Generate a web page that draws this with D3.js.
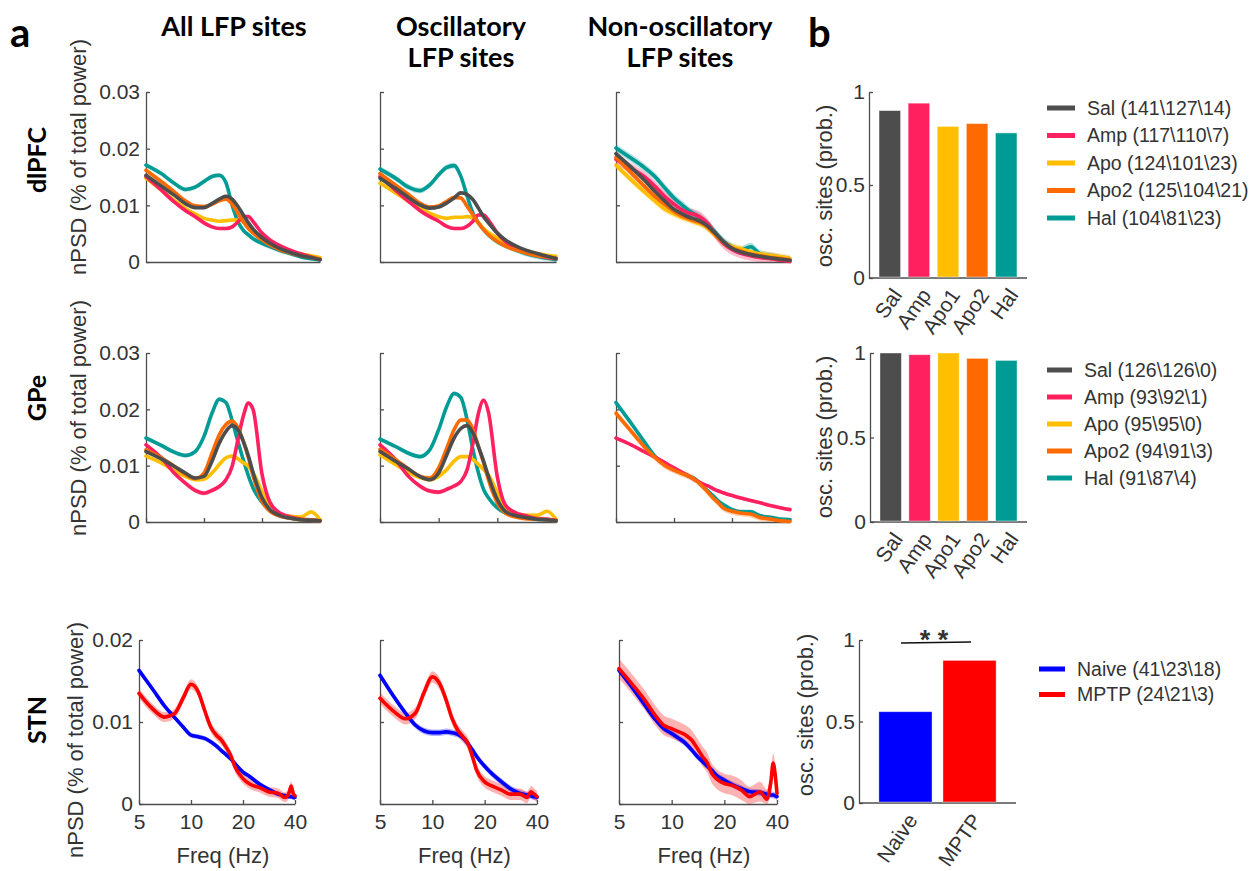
<!DOCTYPE html>
<html>
<head>
<meta charset="utf-8">
<script src="https://cdn.jsdelivr.net/npm/d3@7"></script>
<style>
  body { margin: 0; background: #fff; }
  svg text { font-family: 'Liberation Sans', Arial, sans-serif; fill: #333; }
  svg text.hdr { font-family: Lato, 'Open Sans', sans-serif; font-weight: bold; fill: #000; }
  .axis path, .axis line { stroke: #4d4d4d; stroke-width: 1.3; }
</style>
</head>
<body>
<svg id="chart" width="1250" height="871"></svg>
<script>
// ---- data ----
const groups = ['Sal', 'Amp', 'Apo', 'Apo2', 'Hal'];
const groupColors = ['#4d4d4d', '#ff2060', '#ffbf00', '#ff6a00', '#009b95'];
const stnGroups = ['Naive', 'MPTP'];
const stnColors = ['#0000ff', '#ff0000'];

// frequency grids (Hz)
const freqs = [5, 6, 7, 8, 9, 10, 11, 12, 13, 14, 15, 16, 17, 18, 20, 22, 25, 28, 32, 36, 40];
const stnFreqs = [5, 6, 7, 8, 9, 10, 11, 12, 13, 14, 15, 16, 17, 18, 20, 22, 25, 28, 32, 35, 37, 38, 39, 40];

// dlPFC nPSD, order Sal, Amp, Apo, Apo2, Hal
const dlpfcAll = [
  [0.0153,0.0134,0.0118,0.0103,0.0096,0.0096,0.0103,0.0111,0.0116,0.0111,0.0098,0.0083,0.0069,0.0058,0.0043,0.0033,0.0023,0.0017,0.0011,0.0008,0.0004],
  [0.0151,0.0127,0.0106,0.0091,0.0080,0.0069,0.0062,0.0059,0.0059,0.0062,0.0071,0.0080,0.0080,0.0071,0.0051,0.0039,0.0028,0.0021,0.0014,0.0009,0.0005],
  [0.0148,0.0127,0.0109,0.0095,0.0085,0.0077,0.0074,0.0072,0.0073,0.0074,0.0074,0.0071,0.0062,0.0054,0.0044,0.0035,0.0025,0.0019,0.0014,0.0011,0.0008],
  [0.0162,0.0142,0.0124,0.0108,0.0099,0.0098,0.0102,0.0108,0.0111,0.0102,0.0086,0.0071,0.0059,0.0051,0.0039,0.0030,0.0021,0.0016,0.0011,0.0008,0.0005],
  [0.0171,0.0156,0.0139,0.0128,0.0132,0.0142,0.0151,0.0153,0.0140,0.0100,0.0071,0.0056,0.0048,0.0041,0.0033,0.0027,0.0020,0.0015,0.0009,0.0006,0.0004]
];
const dlpfcOsc = [
  [0.0148,0.0130,0.0114,0.0101,0.0095,0.0097,0.0104,0.0113,0.0122,0.0119,0.0110,0.0095,0.0080,0.0069,0.0051,0.0039,0.0028,0.0021,0.0015,0.0010,0.0006],
  [0.0151,0.0127,0.0107,0.0091,0.0080,0.0072,0.0063,0.0059,0.0059,0.0063,0.0072,0.0083,0.0083,0.0074,0.0051,0.0036,0.0025,0.0018,0.0012,0.0008,0.0006],
  [0.0139,0.0122,0.0107,0.0095,0.0086,0.0080,0.0077,0.0079,0.0079,0.0080,0.0077,0.0069,0.0059,0.0052,0.0042,0.0033,0.0024,0.0020,0.0015,0.0012,0.0010],
  [0.0156,0.0136,0.0119,0.0104,0.0097,0.0099,0.0107,0.0114,0.0113,0.0098,0.0083,0.0069,0.0057,0.0048,0.0036,0.0028,0.0021,0.0016,0.0011,0.0009,0.0006],
  [0.0164,0.0148,0.0132,0.0126,0.0136,0.0154,0.0167,0.0170,0.0151,0.0116,0.0086,0.0069,0.0057,0.0048,0.0036,0.0029,0.0021,0.0015,0.0010,0.0007,0.0004]
];
const dlpfcNonOsc = [
  [0.0191,0.0167,0.0145,0.0124,0.0107,0.0093,0.0085,0.0079,0.0075,0.0070,0.0063,0.0054,0.0045,0.0036,0.0024,0.0018,0.0013,0.0010,0.0007,0.0005,0.0003],
  [0.0181,0.0165,0.0151,0.0133,0.0115,0.0102,0.0092,0.0086,0.0083,0.0077,0.0067,0.0054,0.0042,0.0033,0.0022,0.0016,0.0011,0.0008,0.0006,0.0003,0.0001],
  [0.0171,0.0145,0.0124,0.0107,0.0093,0.0085,0.0079,0.0075,0.0070,0.0066,0.0059,0.0050,0.0042,0.0034,0.0027,0.0024,0.0018,0.0014,0.0011,0.0009,0.0006],
  [0.0185,0.0157,0.0134,0.0115,0.0101,0.0089,0.0081,0.0076,0.0072,0.0068,0.0061,0.0052,0.0043,0.0035,0.0025,0.0020,0.0014,0.0011,0.0008,0.0006,0.0004],
  [0.0201,0.0183,0.0167,0.0150,0.0130,0.0113,0.0101,0.0090,0.0083,0.0076,0.0067,0.0056,0.0046,0.0037,0.0026,0.0020,0.0027,0.0014,0.0010,0.0006,0.0004]
];

// GPe nPSD
const gpeAll = [
  [0.0125,0.0112,0.0099,0.0087,0.0078,0.0081,0.0108,0.0140,0.0161,0.0171,0.0164,0.0143,0.0117,0.0087,0.0043,0.0022,0.0011,0.0007,0.0004,0.0003,0.0002],
  [0.0137,0.0114,0.0087,0.0069,0.0056,0.0051,0.0056,0.0063,0.0075,0.0099,0.0146,0.0188,0.0211,0.0199,0.0085,0.0035,0.0015,0.0009,0.0005,0.0003,0.0002],
  [0.0117,0.0105,0.0091,0.0081,0.0075,0.0076,0.0087,0.0102,0.0114,0.0117,0.0112,0.0105,0.0099,0.0087,0.0054,0.0025,0.0013,0.0010,0.0009,0.0018,0.0004],
  [0.0128,0.0114,0.0099,0.0085,0.0077,0.0087,0.0122,0.0155,0.0173,0.0179,0.0167,0.0143,0.0114,0.0081,0.0037,0.0019,0.0010,0.0007,0.0004,0.0003,0.0002],
  [0.0149,0.0136,0.0124,0.0118,0.0125,0.0152,0.0193,0.0218,0.0212,0.0180,0.0143,0.0110,0.0082,0.0060,0.0035,0.0020,0.0011,0.0007,0.0004,0.0003,0.0002]
];
const gpeOsc = [
  [0.0125,0.0108,0.0094,0.0081,0.0075,0.0087,0.0119,0.0149,0.0166,0.0171,0.0158,0.0134,0.0108,0.0081,0.0040,0.0019,0.0011,0.0008,0.0005,0.0004,0.0002],
  [0.0137,0.0111,0.0081,0.0064,0.0055,0.0053,0.0058,0.0064,0.0072,0.0093,0.0140,0.0193,0.0216,0.0195,0.0080,0.0030,0.0016,0.0011,0.0006,0.0005,0.0003],
  [0.0119,0.0102,0.0088,0.0079,0.0075,0.0081,0.0093,0.0108,0.0116,0.0116,0.0111,0.0102,0.0093,0.0084,0.0052,0.0022,0.0014,0.0012,0.0012,0.0019,0.0005],
  [0.0129,0.0111,0.0094,0.0081,0.0078,0.0096,0.0131,0.0164,0.0181,0.0181,0.0164,0.0134,0.0105,0.0075,0.0034,0.0016,0.0009,0.0006,0.0005,0.0004,0.0002],
  [0.0147,0.0134,0.0122,0.0116,0.0128,0.0164,0.0205,0.0228,0.0221,0.0181,0.0128,0.0087,0.0058,0.0043,0.0025,0.0016,0.0011,0.0008,0.0005,0.0004,0.0002]
];
// no non-oscillatory sites for Sal and Apo
const gpeNonOsc = [
  null,
  [0.0149,0.0137,0.0125,0.0115,0.0105,0.0096,0.0088,0.0081,0.0074,0.0068,0.0064,0.0059,0.0055,0.0052,0.0047,0.0043,0.0038,0.0034,0.0029,0.0025,0.0022],
  null,
  [0.0193,0.0161,0.0134,0.0114,0.0100,0.0092,0.0086,0.0081,0.0074,0.0064,0.0053,0.0042,0.0034,0.0025,0.0019,0.0016,0.0014,0.0008,0.0005,0.0002,0.0001],
  [0.0212,0.0175,0.0143,0.0116,0.0102,0.0094,0.0087,0.0081,0.0075,0.0064,0.0055,0.0046,0.0037,0.0031,0.0022,0.0018,0.0018,0.0011,0.0008,0.0005,0.0004]
];

// STN nPSD, order Naive, MPTP
const stnAll = [
  [0.0163,0.0140,0.0120,0.0106,0.0094,0.0084,0.0082,0.0080,0.0076,0.0071,0.0065,0.0060,0.0055,0.0049,0.0039,0.0033,0.0024,0.0018,0.0012,0.0010,0.0009,0.0009,0.0008,0.0008],
  [0.0135,0.0116,0.0106,0.0110,0.0129,0.0146,0.0137,0.0114,0.0094,0.0084,0.0078,0.0069,0.0059,0.0045,0.0031,0.0024,0.0020,0.0015,0.0013,0.0008,0.0014,0.0022,0.0013,0.0010]
];
const stnOsc = [
  [0.0157,0.0131,0.0111,0.0096,0.0089,0.0087,0.0087,0.0088,0.0087,0.0085,0.0081,0.0074,0.0066,0.0058,0.0046,0.0037,0.0027,0.0019,0.0013,0.0011,0.0010,0.0009,0.0009,0.0008],
  [0.0129,0.0113,0.0104,0.0111,0.0137,0.0155,0.0147,0.0127,0.0104,0.0090,0.0082,0.0074,0.0058,0.0041,0.0027,0.0022,0.0017,0.0012,0.0012,0.0008,0.0015,0.0013,0.0011,0.0009]
];
const stnNonOsc = [
  [0.0163,0.0141,0.0121,0.0104,0.0092,0.0086,0.0080,0.0074,0.0066,0.0058,0.0052,0.0046,0.0041,0.0035,0.0029,0.0024,0.0019,0.0015,0.0014,0.0012,0.0011,0.0011,0.0010,0.0009],
  [0.0165,0.0145,0.0127,0.0109,0.0096,0.0092,0.0088,0.0084,0.0078,0.0068,0.0058,0.0050,0.0037,0.0031,0.0025,0.0023,0.0017,0.0009,0.0015,0.0006,0.0029,0.0050,0.0037,0.0013]
];

// s.e.m. half-widths of the shaded bands
const dlpfcAllSem = [0.0003, 0.0003, 0.0002, 0.0003, 0.0004];
const dlpfcOscSem = [0.0003, 0.0003, 0.0002, 0.0003, 0.0005];
const dlpfcNonOscSem = [0.0005, 0.0009, 0.0006, 0.0006, 0.0007];
const gpeAllSem = [0.0003, 0.0004, 0.0003, 0.0004, 0.0004];
const gpeOscSem = [0.0003, 0.0004, 0.0003, 0.0004, 0.0004];
const gpeNonOscSem = [0, 0.0003, 0, 0.0006, 0.0004];
const stnAllSem = [0.0003, 0.0006];
const stnOscSem = [0.0004, 0.0007];
const stnNonOscSem = [0.0004, 0.0012];

// probability of oscillatory sites
const barLabels = ['Sal', 'Amp', 'Apo1', 'Apo2', 'Hal'];
const dlpfcProb = [0.90, 0.94, 0.815, 0.83, 0.78];
const gpeProb = [1.0, 0.99, 1.0, 0.968, 0.956];
const stnProb = [0.56, 0.875];

// legend entries (all \ oscillatory \ non-oscillatory)
const dlpfcLegend = ['Sal (141\\127\\14)', 'Amp (117\\110\\7)', 'Apo (124\\101\\23)', 'Apo2 (125\\104\\21)', 'Hal (104\\81\\23)'];
const gpeLegend = ['Sal (126\\126\\0)', 'Amp (93\\92\\1)', 'Apo (95\\95\\0)', 'Apo2 (94\\91\\3)', 'Hal (91\\87\\4)'];
const stnLegend = ['Naive (41\\23\\18)', 'MPTP (24\\21\\3)'];

const psdTicks = [0, 0.01, 0.02, 0.03];
const stnPsdTicks = [0, 0.01, 0.02];
const freqTicks = [5, 10, 20, 40];

// ---- drawing ----
const svg = d3.select('#chart');

function linePanel(cfg) {
  const x = d3.scaleLog().domain([5, 40]).range([cfg.left, cfg.right]);
  const y = d3.scaleLinear().domain([0, cfg.yMax]).range([cfg.bottom, cfg.top]);
  const g = svg.append('g');

  // axes
  g.append('g').attr('class', 'axis')
    .attr('transform', `translate(${cfg.left},0)`)
    .call(d3.axisLeft(y).tickValues(cfg.yTicks).tickSize(-4).tickSizeOuter(0).tickPadding(6)
      .tickFormat(cfg.yLabels ? d => String(d) : ''))
    .call(a => a.selectAll('text').style('font-size', '21px').attr('fill', '#333'));

  g.append('g').attr('class', 'axis')
    .attr('transform', `translate(0,${cfg.bottom})`)
    .call(d3.axisBottom(x).tickValues(freqTicks).tickSize(cfg.xTicks ? -4 : 0).tickSizeOuter(0).tickPadding(10)
      .tickFormat(cfg.xLabels ? d => String(d) : ''))
    .call(a => a.selectAll('text').style('font-size', '21px').attr('fill', '#333'));

  const order = cfg.order || d3.range(cfg.series.length);
  // shaded s.e.m. bands
  order.forEach(i => {
    const vals = cfg.series[i];
    if (!vals) return;
    const pts = cfg.freqs.map((f, k) => ({ f, v: vals[k] }));
    g.append('path').datum(pts)
      .attr('d', d3.area()
        .x(d => x(d.f))
        .y0(d => y(Math.max(0, d.v - cfg.sem[i])))
        .y1(d => y(d.v + cfg.sem[i]))
        .curve(d3.curveMonotoneX))
      .attr('fill', cfg.colors[i])
      .attr('opacity', 0.3);
  });
  // mean lines
  order.forEach(i => {
    const vals = cfg.series[i];
    if (!vals) return;
    const pts = cfg.freqs.map((f, k) => ({ f, v: vals[k] }));
    g.append('path').datum(pts)
      .attr('d', d3.line().x(d => x(d.f)).y(d => y(d.v)).curve(d3.curveMonotoneX))
      .attr('fill', 'none')
      .attr('stroke', cfg.colors[i])
      .attr('stroke-width', 3.6)
      .attr('stroke-linejoin', 'round')
      .attr('stroke-linecap', 'round');
  });

  if (cfg.xTitle) {
    g.append('text')
      .attr('x', (cfg.left + cfg.right) / 2 + 6)
      .attr('y', cfg.bottom + 59)
      .attr('text-anchor', 'middle')
      .style('font-size', '22px')
      .text('Freq (Hz)');
  }
}

function barPanel(cfg) {
  const x = d3.scaleBand().domain(cfg.labels).range([cfg.left, cfg.right])
    .paddingInner(cfg.padIn).paddingOuter(cfg.padOut);
  const y = d3.scaleLinear().domain([0, 1]).range([cfg.bottom, cfg.top]);
  const g = svg.append('g');

  g.append('g').attr('class', 'axis')
    .attr('transform', `translate(${cfg.left},0)`)
    .call(d3.axisLeft(y).tickValues([0, 0.5, 1]).tickSize(-4).tickSizeOuter(0).tickPadding(4)
      .tickFormat(d => String(d)))
    .call(a => a.selectAll('text').style('font-size', '21px').attr('fill', '#333'));

  g.append('line')
    .attr('x1', cfg.left).attr('x2', cfg.right)
    .attr('y1', cfg.bottom).attr('y2', cfg.bottom)
    .attr('stroke', '#4d4d4d').attr('stroke-width', 1.3);

  g.selectAll('rect.bar')
    .data(cfg.values)
    .join('rect')
    .attr('class', 'bar')
    .attr('x', (d, i) => x(cfg.labels[i]))
    .attr('width', x.bandwidth())
    .attr('y', d => y(d))
    .attr('height', d => y(0) - y(d) - 1)
    .attr('fill', (d, i) => cfg.colors[i])
    .attr('stroke', '#fff')
    .attr('stroke-opacity', 0.5)
    .attr('stroke-width', 0.8);

  g.selectAll('text.cat')
    .data(cfg.labels)
    .join('text')
    .attr('class', 'cat')
    .attr('transform', d => `translate(${x(d) + x.bandwidth() / 2 + 7},${cfg.bottom + 13}) rotate(-55)`)
    .attr('text-anchor', 'end')
    .attr('dy', '0.35em')
    .style('font-size', '21px')
    .text(d => d);

  g.append('text')
    .attr('transform', `translate(${cfg.titleX},${cfg.titleY}) rotate(-90)`)
    .attr('text-anchor', 'middle')
    .attr('dy', '0.35em')
    .style('font-size', '22px')
    .text('osc. sites (prob.)');

  // legend
  const lg = g.append('g');
  cfg.legend.forEach((t, i) => {
    const ly = cfg.legY + i * cfg.legStep;
    lg.append('line')
      .attr('x1', cfg.legX).attr('x2', cfg.legX + cfg.legW)
      .attr('y1', ly).attr('y2', ly)
      .attr('stroke', cfg.colors[i]).attr('stroke-width', 5);
    lg.append('text')
      .attr('x', cfg.legX + cfg.legW + 12).attr('y', ly)
      .attr('dy', '0.35em')
      .style('font-size', '19.5px')
      .attr('fill', '#222')
      .text(t);
  });
  return { x, y, g };
}

const lineOrder = [4, 2, 1, 3, 0];
const cols = [
  { left: 146, right: 320 },
  { left: 380, right: 556 },
  { left: 616, right: 790 }
];
const stnCols = [
  { left: 139, right: 295 },
  { left: 380, right: 537 },
  { left: 619, right: 777 }
];

// dlPFC row
[[dlpfcAll, dlpfcAllSem], [dlpfcOsc, dlpfcOscSem], [dlpfcNonOsc, dlpfcNonOscSem]].forEach(([s, e], c) => {
  linePanel({ ...cols[c], top: 92, bottom: 262, yMax: 0.03, yTicks: psdTicks, yLabels: c === 0,
    xTicks: false, xLabels: false, freqs, series: s, sem: e, colors: groupColors, order: lineOrder });
});
// GPe row
[[gpeAll, gpeAllSem], [gpeOsc, gpeOscSem], [gpeNonOsc, gpeNonOscSem]].forEach(([s, e], c) => {
  linePanel({ ...cols[c], top: 353, bottom: 522, yMax: 0.03, yTicks: psdTicks, yLabels: c === 0,
    xTicks: true, xLabels: false, freqs, series: s, sem: e, colors: groupColors, order: lineOrder });
});
// STN row
[[stnAll, stnAllSem], [stnOsc, stnOscSem], [stnNonOsc, stnNonOscSem]].forEach(([s, e], c) => {
  linePanel({ ...stnCols[c], top: 640, bottom: 804, yMax: 0.02, yTicks: stnPsdTicks, yLabels: c === 0,
    xTicks: true, xLabels: true, xTitle: true, freqs: stnFreqs, series: s, sem: e, colors: stnColors });
});

// bar panels
barPanel({ labels: barLabels, values: dlpfcProb, colors: groupColors, left: 869, right: 1027, top: 92, bottom: 278,
  padIn: 0.26, padOut: 0.345, titleX: 824, titleY: 186,
  legend: dlpfcLegend, legX: 1047, legW: 28, legY: 108, legStep: 27.5 });
barPanel({ labels: barLabels, values: gpeProb, colors: groupColors, left: 870, right: 1027, top: 353, bottom: 522,
  padIn: 0.26, padOut: 0.345, titleX: 824, titleY: 437,
  legend: gpeLegend, legX: 1047, legW: 25, legY: 370, legStep: 27 });
const stnBar = barPanel({ labels: stnGroups, values: stnProb, colors: stnColors, left: 859, right: 1016, top: 640, bottom: 803,
  padIn: 0.17, padOut: 0.31, titleX: 805, titleY: 715,
  legend: stnLegend, legX: 1039, legW: 26, legY: 669, legStep: 25.5 });

// significance marker
stnBar.g.append('line')
  .attr('x1', 901).attr('x2', 971).attr('y1', 643).attr('y2', 642)
  .attr('stroke', '#111').attr('stroke-width', 1.5);
stnBar.g.append('text')
  .attr('x', 934).attr('y', 649)
  .attr('text-anchor', 'middle')
  .style('font-size', '27px')
  .style('font-weight', 'bold')
  .attr('fill', '#111')
  .text('* *');

// y titles of the spectra
[[78, 157], [78, 418], [75, 740]].forEach(([tx, ty]) => {
  svg.append('text')
    .attr('transform', `translate(${tx},${ty}) rotate(-90)`)
    .attr('text-anchor', 'middle')
    .attr('dy', '0.35em')
    .style('font-size', '22px')
    .text('nPSD (% of total power)');
});

// headers
const hdr = (t, x, y, size, anchor = 'middle') => svg.append('text')
  .attr('class', 'hdr').attr('x', x).attr('y', y)
  .attr('text-anchor', anchor).style('font-size', size + 'px').text(t);
hdr('a', 10, 47, 40, 'start');
hdr('b', 808, 47, 40, 'start');
hdr('All LFP sites', 234, 36, 27);
hdr('Oscillatory', 461, 36, 27);
hdr('LFP sites', 461, 67, 27);
hdr('Non-oscillatory', 680, 36, 27);
hdr('LFP sites', 680, 67, 27);

[['dlPFC', 160], ['GPe', 398], ['STN', 720]].forEach(([t, ty]) => {
  svg.append('text')
    .attr('class', 'hdr')
    .attr('transform', `translate(37,${ty}) rotate(-90)`)
    .attr('text-anchor', 'middle')
    .attr('dy', '0.35em')
    .style('font-size', '25px')
    .text(t);
});
</script>
</body>
</html>
